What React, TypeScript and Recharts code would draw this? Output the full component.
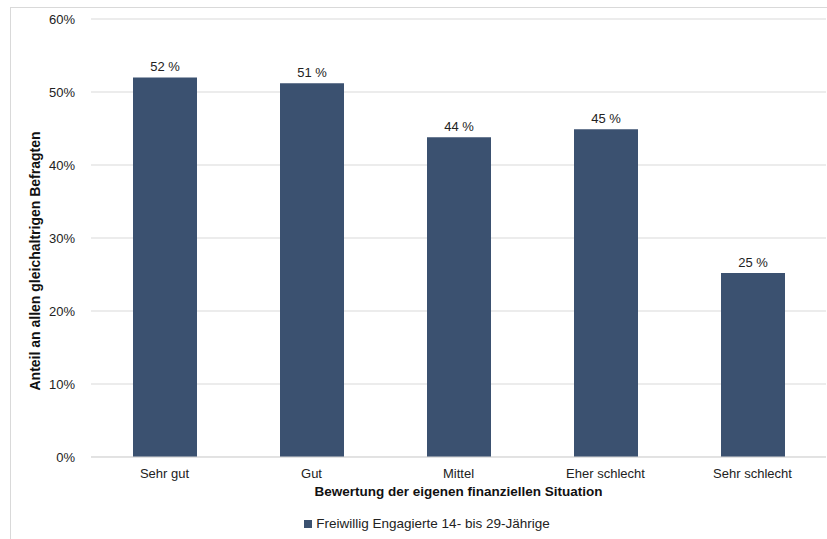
import { Bar, BarChart, CartesianGrid, LabelList, Legend, XAxis, YAxis, Label } from "recharts";

const categories = ["Sehr gut", "Gut", "Mittel", "Eher schlecht", "Sehr schlecht"];
const engagierte = [52, 51.2, 43.8, 44.9, 25.2];
const yTicks = [0, 10, 20, 30, 40, 50, 60];

const data = categories.map((name, i) => ({ name, value: engagierte[i] }));

const FONT = "'Liberation Sans', Arial, sans-serif";
const BAR = "#3b5170";

// y-axis title sits a bit below the plot centre in the original
const YTitle = () => (
  <text
    x={35}
    y={261}
    transform="rotate(-90 35 261)"
    textAnchor="middle"
    dominantBaseline="central"
    style={{ fontSize: 14, fontWeight: "bold", fill: "#111", fontFamily: FONT }}
  >
    Anteil an allen gleichaltrigen Befragten
  </text>
);

export default function App() {
  return (
    <div style={{ position: "absolute", left: 0, top: 0, width: 827, height: 539, background: "#fff", overflow: "hidden", fontFamily: FONT }}>
      <div style={{ position: "absolute", left: 10, top: 7, width: 840, height: 560, border: "1px solid #d9d9d9" }} />
      <div style={{ position: "absolute", left: 0, top: 0 }}>
        <BarChart width={827} height={539} data={data} margin={{ top: 19, right: 1, bottom: 0, left: 0 }}>
          <CartesianGrid vertical={false} stroke="#d9d9d9" />
          <XAxis
            dataKey="name"
            height={52}
            tickLine={false}
            axisLine={{ stroke: "#d9d9d9" }}
            tick={{ fontSize: 13, fill: "#222", fontFamily: FONT }}
            tickMargin={6}
          >
            <Label value="Bewertung der eigenen finanziellen Situation" position="insideBottom" offset={13} style={{ fontSize: 13.5, fontWeight: "bold", fill: "#111", fontFamily: FONT }} />
          </XAxis>
          <YAxis
            width={91}
            domain={[0, 60]}
            ticks={yTicks}
            tickFormatter={(v) => `${v}%`}
            tickLine={false}
            axisLine={false}
            tick={{ fontSize: 13, fill: "#222", fontFamily: FONT }}
            tickMargin={10}
          >
            <Label content={<YTitle />} />
          </YAxis>
          <Legend
            verticalAlign="bottom"
            height={30}
            iconType="square"
            iconSize={8}
            wrapperStyle={{ paddingLeft: 19, transform: "translateY(5px)" }}
            formatter={(v) => <span style={{ color: "#222", fontSize: 13.5, fontFamily: FONT }}>{v}</span>}
          />
          <Bar dataKey="value" name="Freiwillig Engagierte 14- bis 29-Jährige" fill={BAR} barSize={64} isAnimationActive={false}>
            <LabelList dataKey="value" position="top" offset={6} formatter={(v: any) => `${Math.round(Number(v))} %`} style={{ fontSize: 13, fill: "#222", fontFamily: FONT }} />
          </Bar>
        </BarChart>
      </div>
    </div>
  );
}
